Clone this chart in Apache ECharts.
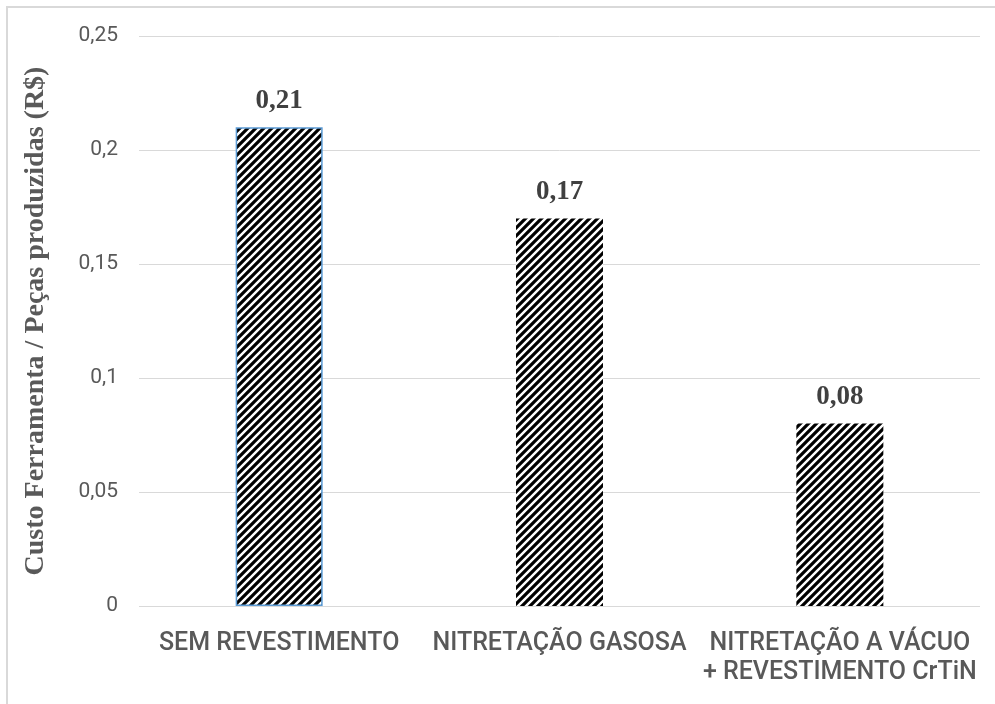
<!DOCTYPE html>
<html>
<head>
<meta charset="utf-8">
<script src="https://cdn.jsdelivr.net/npm/echarts@6/dist/echarts.min.js"></script>
<style>
  html, body { margin: 0; padding: 0; background: #ffffff; }
  #chart { width: 995px; height: 704px; }
</style>
</head>
<body>
<div id="chart"></div>
<script>
// Cost of tooling per produced part, by surface treatment
const categories = [
  'SEM REVESTIMENTO',
  'NITRETAÇÃO GASOSA',
  'NITRETAÇÃO A VÁCUO\n+ REVESTIMENTO CrTiN'
];
const costs = [0.21, 0.17, 0.08];
const yTicks = { min: 0, max: 0.25, interval: 0.05 };
const yTitle = 'Custo Ferramenta / Peças produzidas (R$)';

// Diagonal black/white hatch tile used to fill the bars
function hatchTile(size, width) {
  const c = document.createElement('canvas');
  c.width = size; c.height = size;
  const g = c.getContext('2d');
  g.fillStyle = '#ffffff';
  g.fillRect(0, 0, size, size);
  g.strokeStyle = '#000000';
  g.lineWidth = width;
  g.lineCap = 'square';
  g.beginPath();
  g.moveTo(0, size); g.lineTo(size, 0);
  g.moveTo(-2, 2); g.lineTo(2, -2);
  g.moveTo(size - 2, size + 2); g.lineTo(size + 2, size - 2);
  g.stroke();
  return c;
}
const hatch = { image: hatchTile(8, 3.2), repeat: 'repeat' };

const fmt = v => String(v).replace('.', ',');

const chart = echarts.init(document.getElementById('chart'), null, { renderer: 'canvas' });
chart.setOption({
  animation: false,
  backgroundColor: '#ffffff',
  graphic: [{
    type: 'rect',
    shape: { x: 7, y: 7, width: 1100, height: 1100 },
    style: { fill: 'none', stroke: '#d9d9d9', lineWidth: 2 },
    silent: true
  }],
  grid: { left: 139, right: 15, top: 36, bottom: 98 },
  xAxis: {
    type: 'category',
    data: categories,
    axisLine: { show: false },
    axisTick: { show: false },
    axisLabel: {
      interval: 0,
      margin: 23,
      color: '#595959',
      fontFamily: 'Roboto, "Liberation Sans", sans-serif',
      fontWeight: 500,
      fontSize: 25,
      lineHeight: 29
    }
  },
  yAxis: {
    type: 'value',
    min: yTicks.min,
    max: yTicks.max,
    interval: yTicks.interval,
    name: yTitle,
    nameLocation: 'middle',
    nameGap: 89,
    nameTextStyle: {
      color: '#595959',
      fontFamily: '"Liberation Serif", "Times New Roman", serif',
      fontWeight: 'bold',
      fontSize: 28
    },
    axisLine: { show: false },
    axisTick: { show: false },
    splitLine: { lineStyle: { color: '#d9d9d9', width: 1 } },
    axisLabel: {
      margin: 21,
      color: '#595959',
      fontFamily: 'Roboto, "Liberation Sans", sans-serif',
      fontSize: 21,
      formatter: v => fmt(+v.toFixed(2))
    }
  },
  series: [{
    type: 'bar',
    barWidth: 87,
    data: costs.map((v, i) => i === 0
      ? { value: v, itemStyle: { color: hatch, borderColor: '#5b9bd5', borderWidth: 1.5 } }
      : { value: v, itemStyle: { color: hatch } }),
    label: {
      show: true,
      position: 'top',
      distance: 13,
      color: '#404040',
      fontFamily: '"Liberation Serif", "Times New Roman", serif',
      fontWeight: 'bold',
      fontSize: 27,
      formatter: p => fmt(p.value.toFixed(2))
    }
  }]
});
</script>
</body>
</html>
